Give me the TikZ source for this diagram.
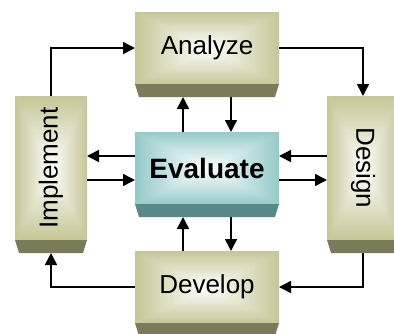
\documentclass[tikz,border=0pt]{standalone}
\usepackage{fontspec}
\setmainfont{Liberation Sans}
\usetikzlibrary{arrows.meta}
\definecolor{olv}{RGB}{198,198,152}
\definecolor{olvsh}{RGB}{123,123,92}
\definecolor{tea}{RGB}{150,202,202}
\definecolor{teash}{RGB}{90,136,136}
\tikzset{
  facebox/.style={minimum width=#1, inner sep=0pt, outer sep=0pt},
  boxshade/.style={path picture={
    \fill[#1] (path picture bounding box.north west) rectangle (path picture bounding box.south east);
    \shade[top color=#1,bottom color=white] (path picture bounding box.north west) -- (path picture bounding box.north east) -- (path picture bounding box.center) -- cycle;
    \shade[top color=white,bottom color=#1] (path picture bounding box.south west) -- (path picture bounding box.south east) -- (path picture bounding box.center) -- cycle;
    \shade[left color=#1,right color=white] (path picture bounding box.north west) -- (path picture bounding box.south west) -- (path picture bounding box.center) -- cycle;
    \shade[left color=white,right color=#1] (path picture bounding box.north east) -- (path picture bounding box.south east) -- (path picture bounding box.center) -- cycle;
  }},
  wide/.style={boxshade=#1, minimum width=144pt, minimum height=72pt, inner sep=0pt, outer sep=0pt, font=\fontsize{26}{30}\selectfont},
  tall/.style={boxshade=#1, minimum width=72pt, minimum height=144pt, inner sep=0pt, outer sep=0pt},
  tallfont/.style={font=\fontsize{26}{30}\selectfont},
  arr/.style={line width=1.5pt, -{Triangle[length=12pt,width=12pt]}},
  ln/.style={line width=1.5pt}
}
\newcommand{\boxsh}[2]{%
  \fill[#2] (#1.south west) -- (#1.south east) -- ([xshift=-4pt,yshift=-13pt]#1.south east) -- ([xshift=4pt,yshift=-13pt]#1.south west) -- cycle;}
\begin{document}
\begin{tikzpicture}[x=1pt,y=-1pt]
\useasboundingbox (0,0) rectangle (394,333);
% boxes
\node[wide=olv] (ana) at (207,48) {Analyze};
\boxsh{ana}{olvsh}
\node[wide=tea, font=\fontsize{28}{32}\selectfont\bfseries] (eva) at (207,168) {Evaluate};
\boxsh{eva}{teash}
\node[wide=olv] (dev) at (207,287) {Develop};
\boxsh{dev}{olvsh}
\node[tall=olv] (imp) at (51,168) {};
\node[tallfont, rotate=90] (imptxt) at (imp.center) {Implement};
\boxsh{imp}{olvsh}
\node[tall=olv] (des) at (363,168) {};
\node[tallfont, rotate=-90] (destxt) at (des.center) {Design};
\boxsh{des}{olvsh}
% outer cycle
\draw[arr] (imp.north) |- (ana.west);
\draw[arr] (ana.east) -| (des.north);
\draw[arr] ([yshift=-13pt]des.south) |- (dev.east);
\draw[arr] (dev.west) -| ([yshift=-13pt]imp.south);
% center links
\draw[arr] ([xshift=24pt,yshift=-13pt]ana.south) -- ([xshift=24pt]eva.north);
\draw[arr] ([xshift=-24pt]eva.north) -- ([xshift=-24pt,yshift=-13pt]ana.south);
\draw[arr] ([xshift=24pt,yshift=-13pt]eva.south) -- ([xshift=24pt]dev.north);
\draw[arr] ([xshift=-24pt]dev.north) -- ([xshift=-24pt,yshift=-13pt]eva.south);
\draw[arr] ([yshift=12pt]eva.west) -- ([yshift=12pt]imp.east);
\draw[arr] ([yshift=-12pt]imp.east) -- ([yshift=-12pt]eva.west);
\draw[arr] ([yshift=12pt]des.west) -- ([yshift=12pt]eva.east);
\draw[arr] ([yshift=-12pt]eva.east) -- ([yshift=-12pt]des.west);
\end{tikzpicture}
\end{document}
